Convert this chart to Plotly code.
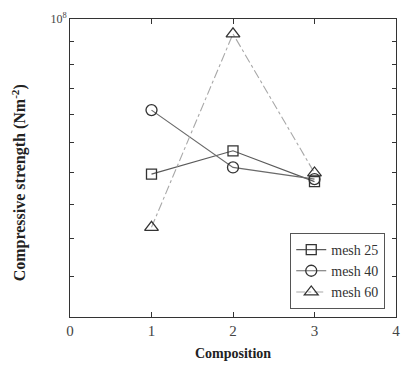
import plotly.graph_objects as go

composition = [1, 2, 3]
mesh25 = [6.97e7, 7.36e7, 6.85e7]
mesh40 = [8.09e7, 7.08e7, 6.89e7]
mesh60 = [6.16e7, 9.66e7, 6.99e7]
series_names = ["mesh 25", "mesh 40", "mesh 60"]
x_ticks = [0, 1, 2, 3, 4]
y_ticks = [5e7, 5.5e7, 6e7, 6.5e7, 7e7, 7.5e7, 8e7, 8.5e7, 9e7, 9.5e7, 1e8]
y_ticktext = [""] * 10 + ["10<sup>8</sup>"]

font = "Liberation Serif, Times New Roman, serif"

fig = go.Figure()
fig.add_trace(go.Scatter(
    x=composition, y=mesh25, name=series_names[0], mode="lines+markers",
    line=dict(color="#5a5a5a", width=1.2),
    marker=dict(symbol="square-open", size=10, color="#333333", line=dict(width=1.3))))
fig.add_trace(go.Scatter(
    x=composition, y=mesh40, name=series_names[1], mode="lines+markers",
    line=dict(color="#6a6a6a", width=1.2),
    marker=dict(symbol="circle-open", size=11, color="#333333", line=dict(width=1.3))))
fig.add_trace(go.Scatter(
    x=composition, y=mesh60, name=series_names[2], mode="lines+markers",
    line=dict(color="#a8a8a8", width=1.1, dash="dashdot"),
    marker=dict(symbol="triangle-up-open", size=12, color="#333333", line=dict(width=1.3))))

fig.update_layout(
    width=406, height=371,
    margin=dict(l=70, r=6, t=19, b=54),
    paper_bgcolor="white", plot_bgcolor="white",
    font=dict(family=font, size=13, color="#333333"),
    showlegend=True,
    legend=dict(x=0.967, y=0.027, xanchor="right", yanchor="bottom",
                bordercolor="#555555", borderwidth=1, bgcolor="white",
                font=dict(family=font, size=14, color="#333333"),
                itemwidth=30, tracegroupgap=0),
    xaxis=dict(range=[0, 4], tickvals=x_ticks, ticks="inside", ticklen=5,
               showgrid=False, zeroline=False, showline=True, linecolor="#333333",
               linewidth=1, mirror="ticks", tickcolor="#333333",
               tickfont=dict(family=font, size=15, color="#444444"),
               title=dict(text="<b>Composition</b>", font=dict(family=font, size=14, color="#222222"),
                          standoff=10)),
    yaxis=dict(type="log", range=[7.69897, 8.0], tickvals=y_ticks, ticktext=y_ticktext,
               ticks="inside", ticklen=4, showgrid=False, zeroline=False, showline=True,
               linecolor="#333333", linewidth=1, mirror="ticks", tickcolor="#333333",
               tickfont=dict(family=font, size=12, color="#444444")),
    annotations=[dict(text="<b>Compressive strength (Nm<sup>-2</sup>)</b>",
                      xref="paper", yref="paper", x=-0.155, y=0.45,
                      xanchor="center", yanchor="middle", textangle=-90, showarrow=False,
                      font=dict(family=font, size=16, color="#222222"))],
)

fig.write_html("out.html")
